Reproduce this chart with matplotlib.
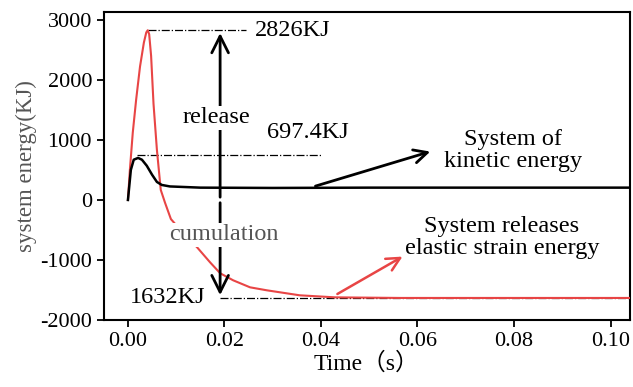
import matplotlib
matplotlib.use('Agg')
from matplotlib import pyplot as plt

# elastic strain energy (red) and kinetic energy (black), KJ
t_strain = [0, 0.0004, 0.001, 0.0017, 0.0025, 0.0033, 0.0038, 0.0041, 0.0044, 0.0048, 0.0053, 0.006,
            0.0068, 0.0077, 0.0089, 0.0118, 0.0143, 0.017, 0.0191, 0.0218, 0.0253,
            0.0288, 0.0356, 0.0429, 0.0564, 0.08, 0.104]
e_strain = [0, 500, 1120, 1670, 2220, 2620, 2790, 2826, 2760, 2400, 1600, 836,
            167, -50, -318, -585, -786, -1037, -1220, -1338, -1455,
            -1505, -1588, -1622, -1632, -1632, -1632]

t_kin = [0, 0.0006, 0.0012, 0.0021, 0.0029, 0.0039, 0.005, 0.006, 0.007, 0.0087,
         0.015, 0.03, 0.05, 0.08, 0.104]
e_kin = [0, 500, 670, 700, 670, 570, 420, 300, 250, 225,
         205, 200, 205, 205, 205]

peak_release = 2826
peak_kin = 750
low_cumul = -1632

plt.rcParams['font.family'] = ['Liberation Serif', 'Noto Sans CJK SC']
plt.rcParams['axes.unicode_minus'] = False

fig = plt.figure(figsize=(6.33, 3.87), dpi=100)
ax = fig.add_axes([0.164, 0.173, 0.831, 0.796])

ax.plot(t_strain, e_strain, color='#e84545', lw=1.5, zorder=3)
ax.plot(t_kin, e_kin, color='black', lw=1.8, zorder=3)

# dash-dot guide lines
ax.plot([0.0041, 0.0245], [peak_release, peak_release], color='black', lw=0.9, ls='-.')
ax.plot([0.0019, 0.0403], [peak_kin, peak_kin], color='black', lw=0.9, ls='-.')
ax.plot([0.0191, 0.104], [low_cumul, low_cumul], color='black', lw=0.9, ls='-.', zorder=2)

# release / cumulation arrows
ax.annotate('', xy=(0.0191, peak_release), xytext=(0.0191, 0),
            arrowprops=dict(arrowstyle='->', color='black', lw=2, mutation_scale=30))
ax.annotate('', xy=(0.0191, low_cumul), xytext=(0.0191, 0),
            arrowprops=dict(arrowstyle='->', color='black', lw=2, mutation_scale=30))
ax.text(0.0184, 1370, 'release', fontsize=17.5, ha='center', va='center', zorder=5,
        bbox=dict(facecolor='white', edgecolor='none', pad=1))
ax.text(0.0199, -580, 'cumulation', fontsize=17.5, ha='center', va='center', color='#555555',
        zorder=5, bbox=dict(facecolor='white', edgecolor='none', pad=1))

ax.text(0.0263, peak_release, '2826KJ', fontsize=17.5, ha='left', va='center')
ax.text(0.0288, 1120, '697.4KJ', fontsize=17.5, ha='left', va='center')
ax.text(0.0083, low_cumul, '1632KJ', fontsize=17.5, ha='center', va='center')

ax.annotate('', xy=(0.0632, 819), xytext=(0.0383, 217),
            arrowprops=dict(arrowstyle='->', color='black', lw=2, mutation_scale=24))
ax.text(0.0798, 820, 'System of\nkinetic energy', fontsize=17.5, ha='center', va='center',
        linespacing=1.05)
ax.annotate('', xy=(0.0574, -920), xytext=(0.0429, -1589),
            arrowprops=dict(arrowstyle='->', color='#e84545', lw=1.8, mutation_scale=24))
ax.text(0.0775, -620, 'System releases\nelastic strain energy', fontsize=17.5, ha='center',
        va='center', linespacing=1.05)

ax.set_xlim(-0.005, 0.104)
ax.set_ylim(-2000, 3130)
ax.set_xticks([0, 0.02, 0.04, 0.06, 0.08, 0.10])
ax.set_xticklabels(['0.00', '0.02', '0.04', '0.06', '0.08', '0.10'])
ax.set_yticks([-2000, -1000, 0, 1000, 2000, 3000])
ax.tick_params(labelsize=16, width=1.3, length=5)
for s in ax.spines.values():
    s.set_linewidth(1.5)

ax.set_xlabel('Time（s）', fontsize=17, labelpad=1)
ax.set_ylabel('system energy(KJ)', fontsize=16.5, color='#555555', labelpad=2)

fig.savefig('out.png', dpi=100)
